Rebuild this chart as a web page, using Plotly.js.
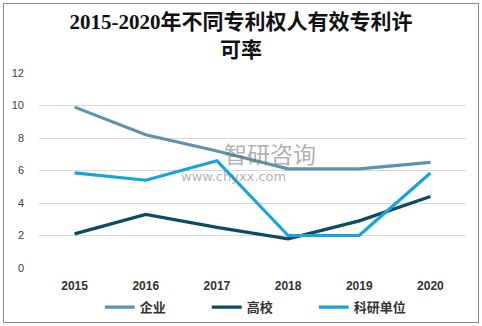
<!DOCTYPE html>
<html><head><meta charset="utf-8">
<script src="https://cdn.plot.ly/plotly-3.0.1.min.js"></script>
<style>
body{margin:0;padding:0;background:#fff;}
#chart{width:482px;height:326px;position:absolute;left:0;top:0;}
#frame{position:absolute;left:3px;top:3px;width:474px;height:318px;border:1px solid #8c8c8c;pointer-events:none;}
</style></head>
<body>
<div id="chart"></div><div id="frame"></div>
<script>
const years = ['2015','2016','2017','2018','2019','2020'];
const qiye = [9.9, 8.2, 7.2, 6.1, 6.1, 6.5];
const gaoxiao = [2.1, 3.3, 2.5, 1.8, 2.9, 4.4];
const keyan = [5.85, 5.4, 6.6, 2.0, 2.0, 5.85];
const seriesNames = ['企业','高校','科研单位'];
const yTicks = [0,2,4,6,8,10,12];

const colors = ['#5e93ab','#0c4b63','#14a5dc'];
const data = [qiye, gaoxiao, keyan].map((v,i)=>({
  x: years, y: v, type:'scatter', mode:'lines', name: seriesNames[i],
  line:{color:colors[i], width:3.2}
}));

const layout = {
  width:482, height:326,
  margin:{l:39, r:16, t:73, b:58},
  paper_bgcolor:'#fff', plot_bgcolor:'#fff',
  title:{text:'2015-2020年不同专利权人有效专利许<br>可率', x:0.5, xanchor:'center', y:0.91, yanchor:'middle',
    font:{family:'Liberation Serif, Noto Sans CJK SC, serif', size:21, color:'#111', weight:'bold'}},
  xaxis:{type:'category', range:[-0.5,5.5], showgrid:false, zeroline:false, showline:false, automargin:false,
    ticks:'', tickfont:{family:'Arial, Liberation Sans, sans-serif', size:12, color:'#333', weight:'bold'}, ticklabelstandoff:9},
  yaxis:{range:[0,12], tickvals:yTicks, ticktext:yTicks.map(String), showgrid:true, gridcolor:'#d9d9d9', gridwidth:1,
    zeroline:false, showline:false, ticks:'', automargin:false, tickfont:{family:'Liberation Sans, Arial, sans-serif', size:11, color:'#404040'},
    ticklabelstandoff:14},
  showlegend:true,
  legend:{orientation:'h', x:0.54, xanchor:'center', xref:'container', yref:'container', y:0.058, yanchor:'middle', entrywidth:62, entrywidthmode:'pixels',
    font:{family:'Noto Sans CJK SC, sans-serif', size:13, color:'#333', weight:'bold'}},
  annotations:[
    {xref:'paper', yref:'paper', x:0.54, y:0.59, text:'智研咨询', showarrow:false,
     font:{family:'Noto Sans CJK SC, sans-serif', size:23, color:'rgba(110,110,110,0.55)'}},
    {xref:'paper', yref:'paper', x:0.455, y:0.47, text:'www.chyxx.com', showarrow:false,
     font:{family:'DejaVu Sans, sans-serif', size:13, color:'rgba(110,110,110,0.55)'}}
  ]
};
Plotly.newPlot('chart', data, layout, {displayModeBar:false, staticPlot:true});
</script>
</body></html>
